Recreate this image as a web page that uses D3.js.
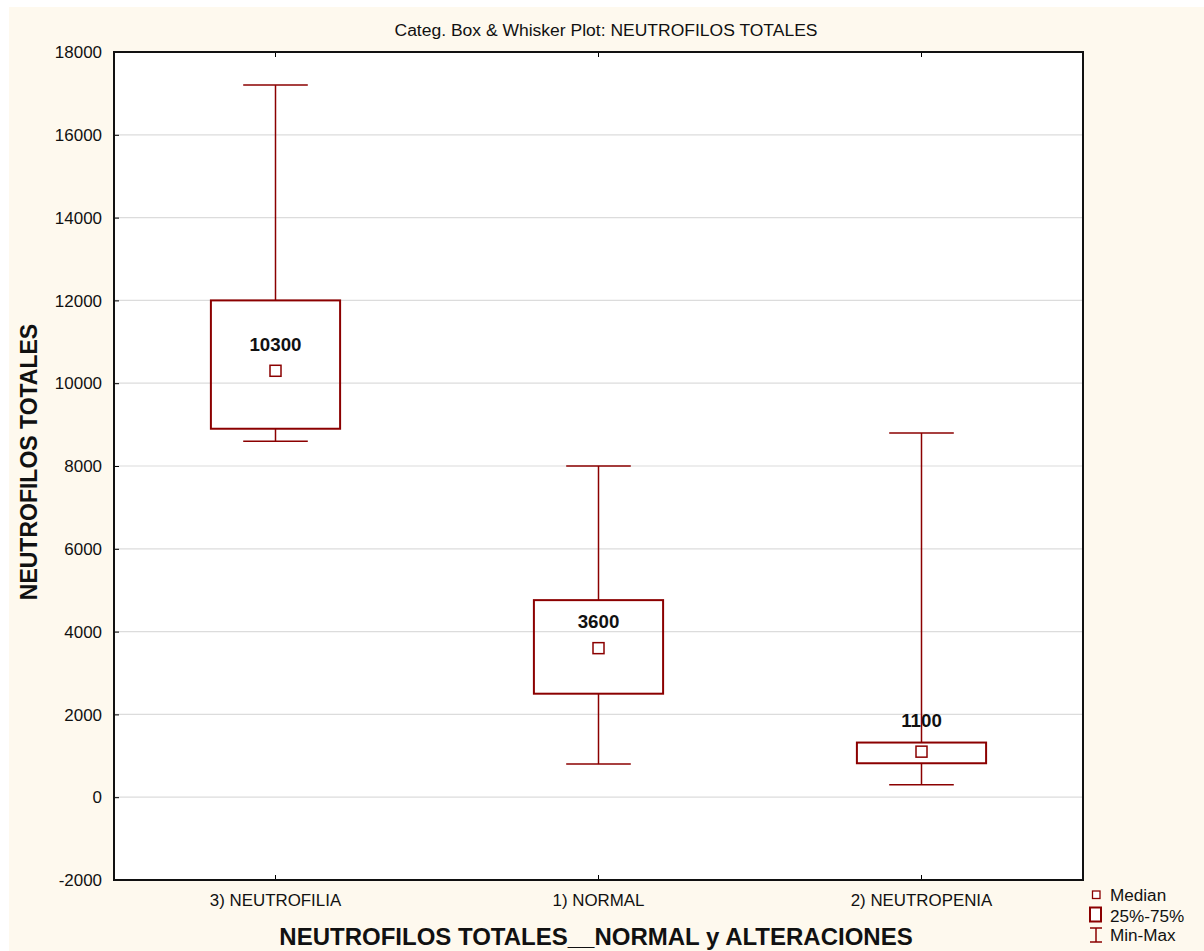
<!DOCTYPE html>
<html><head><meta charset="utf-8">
<script src="https://cdn.jsdelivr.net/npm/d3@7"></script>
<style>
html,body{margin:0;padding:0;background:#fff;}
svg{display:block;}
text{font-family:"Liberation Sans",Arial,sans-serif;}
</style></head>
<body><svg id="c" width="1204" height="951"></svg>
<script>
const categories = ["3) NEUTROFILIA", "1) NORMAL", "2) NEUTROPENIA"];
const medians = [10300, 3600, 1100];
const q1 = [8900, 2500, 820];
const q3 = [12000, 4760, 1320];
const mins = [8600, 800, 300];
const maxs = [17200, 8000, 8800];
const yTicks = [-2000, 0, 2000, 4000, 6000, 8000, 10000, 12000, 14000, 16000, 18000];

const svg = d3.select("#c");
const W = 1204, H = 951;
const m = {left: 114, right: 1083, top: 52, bottom: 880};
const red = "#8b0000";
const FONT = "Liberation Sans, Arial, sans-serif";

function stretch(sel, f) {
  sel.each(function () {
    const w = this.getComputedTextLength();
    d3.select(this).attr("textLength", w * f).attr("lengthAdjust", "spacingAndGlyphs");
  });
}

svg.append("rect").attr("x", 9).attr("y", 7).attr("width", W - 9).attr("height", H - 7).attr("fill", "#fef9ee");

const x = d3.scaleBand().domain(categories).range([m.left, m.right]).padding(0);
const y = d3.scaleLinear().domain([-2000, 18000]).range([m.bottom, m.top]);

svg.append("rect").attr("x", m.left).attr("y", m.top).attr("width", m.right - m.left).attr("height", m.bottom - m.top).attr("fill", "#fff");

// gridlines
svg.append("g").selectAll("line").data(yTicks.filter(d => d > -2000 && d < 18000)).join("line")
  .attr("x1", m.left).attr("x2", m.right).attr("y1", d => y(d)).attr("y2", d => y(d))
  .attr("stroke", "#dcdcdc").attr("stroke-width", 1.2);

// axes
const yAxis = d3.axisLeft(y).tickValues(yTicks).tickSize(-5).tickPadding(12).tickFormat(d => d < 0 ? "-" + Math.abs(d) : String(d));
const gy = svg.append("g").attr("transform", `translate(${m.left},0)`).call(yAxis);
gy.select(".domain").remove();
gy.selectAll("line").attr("stroke", "#000");
gy.selectAll("text").attr("font-size", 16).attr("fill", "#111").attr("font-family", FONT).attr("dy", "0.36em");
stretch(gy.selectAll("text"), 1.06);

const xAxis = d3.axisBottom(x).tickSize(-5).tickPadding(15);
const gx = svg.append("g").attr("transform", `translate(0,${m.bottom})`).call(xAxis);
gx.select(".domain").remove();
gx.selectAll("line").attr("stroke", "#000");
gx.selectAll("text").attr("font-size", 16).attr("fill", "#111").attr("font-family", FONT);
stretch(gx.selectAll("text"), 1.055);

const xTop = d3.axisTop(x).tickSize(-5).tickFormat("");
const gxt = svg.append("g").attr("transform", `translate(0,${m.top})`).call(xTop);
gxt.select(".domain").remove();
gxt.selectAll("line").attr("stroke", "#000");

// frame
svg.append("rect").attr("x", m.left).attr("y", m.top).attr("width", m.right - m.left).attr("height", m.bottom - m.top)
  .attr("fill", "none").attr("stroke", "#111").attr("stroke-width", 2);

// boxes
const bw = x.bandwidth() * 0.4;
const cw = x.bandwidth() * 0.1;
const g = svg.append("g");
categories.forEach((c, i) => {
  const cx = x(c) + x.bandwidth() / 2;
  g.append("line").attr("x1", cx).attr("x2", cx).attr("y1", y(maxs[i])).attr("y2", y(q3[i])).attr("stroke", red).attr("stroke-width", 1.5);
  g.append("line").attr("x1", cx).attr("x2", cx).attr("y1", y(q1[i])).attr("y2", y(mins[i])).attr("stroke", red).attr("stroke-width", 1.5);
  g.append("line").attr("x1", cx - cw).attr("x2", cx + cw).attr("y1", y(maxs[i])).attr("y2", y(maxs[i])).attr("stroke", red).attr("stroke-width", 1.5);
  g.append("line").attr("x1", cx - cw).attr("x2", cx + cw).attr("y1", y(mins[i])).attr("y2", y(mins[i])).attr("stroke", red).attr("stroke-width", 1.5);
  g.append("rect").attr("x", cx - bw / 2).attr("y", y(q3[i])).attr("width", bw).attr("height", y(q1[i]) - y(q3[i]))
    .attr("fill", "none").attr("stroke", red).attr("stroke-width", 2);
  g.append("rect").attr("x", cx - 5.5).attr("y", y(medians[i]) - 5.5).attr("width", 11).attr("height", 11)
    .attr("fill", "#fff").attr("stroke", red).attr("stroke-width", 1.5);
  let ly = y(medians[i]) - 20;
  if (y(q3[i]) > ly - 2 && y(q3[i]) < y(medians[i])) ly = y(q3[i]) - 16;
  const t = g.append("text").attr("x", cx).attr("y", ly).attr("text-anchor", "middle")
    .attr("font-size", 18).attr("font-weight", "bold").attr("fill", "#111").text(medians[i]);
  stretch(t, 1.04);
});

// titles
svg.append("text").attr("x", 606).attr("y", 36).attr("text-anchor", "middle").attr("font-size", 16).attr("fill", "#111")
  .attr("textLength", 423).attr("lengthAdjust", "spacingAndGlyphs")
  .text("Categ. Box & Whisker Plot: NEUTROFILOS TOTALES");
svg.append("text").attr("x", 596).attr("y", 945).attr("text-anchor", "middle").attr("font-size", 24).attr("font-weight", "bold").attr("fill", "#111")
  .text("NEUTROFILOS TOTALES__NORMAL y ALTERACIONES");
svg.append("text").attr("transform", "translate(37,462) rotate(-90)").attr("text-anchor", "middle").attr("font-size", 23).attr("font-weight", "bold").attr("fill", "#111")
  .text("NEUTROFILOS TOTALES");

// legend
const lg = svg.append("g");
lg.append("rect").attr("x", 1092.5).attr("y", 891).attr("width", 7.5).attr("height", 7.5).attr("fill", "#fff").attr("stroke", red).attr("stroke-width", 1.3);
lg.append("rect").attr("x", 1090).attr("y", 907.5).attr("width", 11).attr("height", 14).attr("fill", "#fff").attr("stroke", red).attr("stroke-width", 2);
lg.append("line").attr("x1", 1096).attr("x2", 1096).attr("y1", 928).attr("y2", 942).attr("stroke", red).attr("stroke-width", 1.5);
lg.append("line").attr("x1", 1090).attr("x2", 1102).attr("y1", 928).attr("y2", 928).attr("stroke", red).attr("stroke-width", 1.5);
lg.append("line").attr("x1", 1090).attr("x2", 1102).attr("y1", 942).attr("y2", 942).attr("stroke", red).attr("stroke-width", 1.5);
[["Median", 901], ["25%-75%", 921.5], ["Min-Max", 941]].forEach(([t, yy]) => {
  const tt = lg.append("text").attr("x", 1110).attr("y", yy).attr("font-size", 16).attr("fill", "#111").text(t);
  stretch(tt, 1.07);
});
</script></body></html>
